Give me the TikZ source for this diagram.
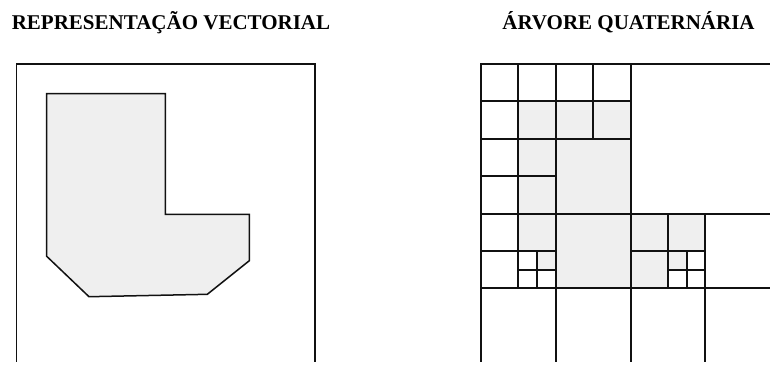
\documentclass[tikz,border=0pt]{standalone}
\usepackage{fontspec}
\setmainfont{Liberation Serif}
\usepackage{xcolor}
\usepackage{tikz}
\definecolor{QT_FILL}{HTML}{EFEFEF}
\definecolor{QT_LINE}{HTML}{111111}
\tikzset{
  title/.style={
    anchor=base, inner sep=0pt,
    font=\fontsize{10.5}{12}\selectfont\bfseries},
  frame/.style={draw=QT_LINE, line width=0.75pt},
  poly/.style={draw=QT_LINE, line width=0.75pt, fill=QT_FILL, line join=miter},
  emptyleaf/.style={draw=QT_LINE, line width=1pt},
  fullleaf/.style={draw=QT_LINE, line width=1pt, fill=QT_FILL},
}

\begin{document}
\begin{tikzpicture}[x=0.5pt, y=-0.5pt]

  \useasboundingbox (0,0) rectangle (770,365);
  \clip (0,0) rectangle (770,361.5);

  % titles
  \node[title] (titvec) at (171,29.5) {REPRESENTAÇÃO VECTORIAL};
  \node[title] (titqt) at (628.5,29.5) {ÁRVORE QUATERNÁRIA};

  % vector representation
  \draw[frame] (16.7,380) -- (16.7,64) -- (315,64) -- (315,380);
  \draw[poly] (46.7,93.7) -- (165.3,93.7) -- (165.3,214.3) -- (249.3,214.3)
    -- (249.3,260.7) -- (207.3,294.3) -- (89,296.7) -- (46.7,256.3) -- cycle;

  % quadtree, in cell units
  \begin{scope}[shift={(481,64)}, x=18.7pt, y=-18.7pt]
    \foreach \cx/\cy/\cs in {1/1/1, 2/1/1, 3/1/1, 1/2/1, 1/3/1, 2/2/2,
                             1/4/1, 1.5/5/0.5, 2/4/2, 4/4/1, 5/4/1, 4/5/1,
                             5/5/0.5}
      \draw[fullleaf] (\cx,\cy) rectangle ++(\cs,\cs);
    \foreach \cx/\cy/\cs in {0/0/1, 1/0/1, 2/0/1, 3/0/1, 0/1/1, 0/2/1,
                             0/3/1, 4/0/4, 0/4/1, 0/5/1, 1/5/0.5, 1/5.5/0.5,
                             1.5/5.5/0.5, 0/6/2, 2/6/2, 4/6/2, 6/6/2, 6/4/2,
                             5.5/5/0.5, 5/5.5/0.5, 5.5/5.5/0.5}
      \draw[emptyleaf] (\cx,\cy) rectangle ++(\cs,\cs);
  \end{scope}

\end{tikzpicture}
\end{document}
